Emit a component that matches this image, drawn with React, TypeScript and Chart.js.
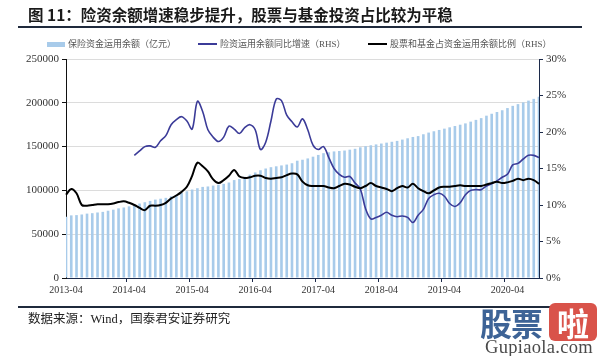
import React, { useEffect, useRef } from 'react';
import { Chart, registerables } from 'chart.js';
Chart.register(...registerables);

// Monthly categories 2013-04 .. 2020-10
const startYear = 2013;
const startMonth = 4;
const monthCount = 91;
const months: string[] = [];
for (let k = 0; k < monthCount; k++) {
  const m = startMonth - 1 + k;
  const y = startYear + Math.floor(m / 12);
  const mm = (m % 12) + 1;
  months.push(`${y}-${mm < 10 ? '0' + mm : mm}`);
}

// 保险资金运用余额（亿元）
const balance2013 = [70000, 71500, 71800, 72500, 73500, 74000, 74800, 75500, 76800];
const balance2014 = [78000, 79500, 80500, 81800, 83000, 85000, 86500, 88000, 89500, 90500, 91500, 93300];
const balance2015 = [95000, 97000, 99000, 101000, 102500, 104000, 104500, 105500, 106500, 107500, 109000, 111800];
const balance2016 = [113000, 115500, 118000, 120500, 123000, 125000, 126500, 127500, 128500, 129500, 131000, 133900];
const balance2017 = [135000, 136500, 138500, 140500, 142500, 143500, 144500, 145000, 145500, 146500, 147500, 149200];
const balance2018 = [150500, 151500, 152500, 153500, 154500, 155500, 156500, 158000, 159500, 161000, 162000, 164100];
const balance2019 = [166000, 167500, 169000, 170500, 172000, 173500, 175000, 176500, 178500, 180500, 182500, 185300];
const balance2020 = [187500, 189500, 191500, 194000, 196500, 198500, 200500, 202500, 204500, 207000];
const balance = [
  ...balance2013, ...balance2014, ...balance2015, ...balance2016,
  ...balance2017, ...balance2018, ...balance2019, ...balance2020,
];

// 险资运用余额同比增速（RHS, %），starts 2014-05
const growthLeadingGap = 13;
const growth = [
  16.8, 17.4, 18.0, 18.1, 17.9, 18.8, 19.5, 21.0, 21.7, 22.1, 21.5, 20.4,
  24.2, 22.8, 20.3, 19.3, 18.7, 19.3, 20.8, 20.4, 19.8, 20.6, 21.0, 20.3,
  17.6, 18.6, 21.5, 24.5, 24.3, 22.3, 21.4, 20.7, 21.8, 20.3, 18.2, 17.6,
  18.0, 16.5, 15.0, 14.2, 13.8, 13.9, 13.0, 12.2, 9.5, 8.1, 8.3, 8.6,
  9.0, 8.6, 8.4, 8.5, 8.3, 7.6, 8.6, 9.4, 10.9, 11.4, 11.6, 11.2,
  10.2, 9.8, 10.3, 11.4, 12.0, 12.1, 12.1, 12.6, 12.9, 13.3, 13.8, 14.2,
  15.5, 15.7, 16.3, 16.8, 16.8, 16.5,
];

// 股票和基金占资金运用余额比例（RHS, %）
const equityShare = [
  11.4, 12.2, 11.6, 10.0, 9.9, 10.0, 10.1, 10.1, 10.1, 10.2,
  10.4, 10.5, 10.3, 10.0, 9.6, 9.3, 9.9, 9.9, 10.0, 10.3,
  10.9, 11.3, 11.8, 12.5, 14.0, 15.8, 15.3, 14.6, 13.5, 13.0,
  13.4, 14.0, 14.8, 13.9, 13.7, 13.8, 14.0, 14.0, 13.7, 13.6,
  13.7, 13.8, 14.1, 14.3, 14.2, 13.2, 12.7, 12.6, 12.6, 12.6,
  12.4, 12.3, 12.6, 12.9, 12.8, 12.5, 12.3, 12.6, 13.0, 12.6,
  12.4, 12.2, 11.9, 12.3, 12.6, 12.4, 12.9, 12.3, 11.9, 11.6,
  12.0, 12.4, 12.5, 12.5, 12.6, 12.7, 12.6, 12.6, 12.6, 12.6,
  12.8, 13.0, 13.2, 13.0, 13.1, 13.3, 13.6, 13.4, 13.6, 13.4, 12.9,
];

const leftTicks = { min: 0, max: 250000, step: 50000 };
const rightTicks = { min: 0, max: 30, step: 5 };

const seriesNames = ['保险资金运用余额（亿元）', '险资运用余额同比增速（RHS）', '股票和基金占资金运用余额比例（RHS）'];

const serif = '"Liberation Serif", "Times New Roman", serif';
const mixed = '"Liberation Serif", "Noto Sans CJK SC", serif';

export default function App() {
  const canvasRef = useRef<HTMLCanvasElement | null>(null);

  useEffect(() => {
    const canvas = canvasRef.current;
    if (!canvas) return;
    const growthData: (number | null)[] = [
      ...Array(growthLeadingGap).fill(null),
      ...growth,
    ];
    const chart = new Chart(canvas, {
      type: 'bar',
      data: {
        labels: months,
        datasets: [
          {
            type: 'bar',
            label: seriesNames[0],
            data: balance,
            yAxisID: 'y',
            backgroundColor: '#a8cbea',
            borderWidth: 0,
            barPercentage: 0.5,
            categoryPercentage: 1,
            order: 3,
          },
          {
            type: 'line',
            label: seriesNames[1],
            data: growthData,
            yAxisID: 'y1',
            borderColor: '#3b3b98',
            borderWidth: 1.6,
            pointRadius: 0,
            tension: 0.35,
            spanGaps: false,
            order: 2,
          },
          {
            type: 'line',
            label: seriesNames[2],
            data: equityShare,
            yAxisID: 'y1',
            borderColor: '#000000',
            borderWidth: 2,
            pointRadius: 0,
            tension: 0.35,
            order: 1,
          },
        ],
      },
      options: {
        responsive: false,
        animation: false,
        maintainAspectRatio: false,
        layout: { padding: { top: 59, left: 0, right: 0, bottom: 0 } },
        plugins: {
          legend: { display: false },
          title: { display: false },
          tooltip: { enabled: false },
        },
        scales: {
          x: {
            type: 'category',
            offset: false,
            grid: {
              display: true,
              drawOnChartArea: false,
              drawTicks: true,
              tickLength: 4,
              tickColor: (ctx: any) =>
                months[ctx.index] && months[ctx.index].endsWith('-04') ? '#1c2a4a' : 'rgba(0,0,0,0)',
            },
            border: { display: true, color: '#1c2a4a', width: 1 },
            ticks: {
              autoSkip: false,
              maxRotation: 0,
              minRotation: 0,
              padding: 2,
              color: '#333333',
              font: { family: serif, size: 10 },
              callback: function (this: any, value: any, index: number) {
                const l = months[index];
                return l.endsWith('-04') ? l : '';
              },
            },
            afterFit: (scale: any) => {
              scale.height = 78;
            },
          },
          y: {
            type: 'linear',
            position: 'left',
            min: leftTicks.min,
            max: leftTicks.max,
            ticks: {
              stepSize: leftTicks.step,
              color: '#333333',
              padding: 3,
              font: { family: serif, size: 11 },
              callback: (v: any) => String(v),
            },
            grid: {
              color: '#dcdcdc',
              lineWidth: 1,
              drawTicks: true,
              tickLength: 4,
              tickColor: '#111111',
            },
            border: { display: true, color: '#111111', width: 1 },
            afterFit: (scale: any) => {
              scale.width = 66;
            },
          },
          y1: {
            type: 'linear',
            position: 'right',
            min: rightTicks.min,
            max: rightTicks.max,
            ticks: {
              stepSize: rightTicks.step,
              color: '#333333',
              padding: 3,
              font: { family: serif, size: 11 },
              callback: (v: any) => `${v}%`,
            },
            grid: {
              drawOnChartArea: false,
              drawTicks: true,
              tickLength: 4,
              tickColor: '#1c2a4a',
            },
            border: { display: true, color: '#1c2a4a', width: 1 },
            afterFit: (scale: any) => {
              scale.width = 61;
            },
          },
        },
      },
    });
    return () => chart.destroy();
  }, []);

  const legendText: React.CSSProperties = {
    position: 'absolute',
    top: 38,
    fontFamily: mixed,
    fontSize: 9,
    lineHeight: '12px',
    color: '#555555',
    whiteSpace: 'nowrap',
  };

  return (
    <div
      style={{
        position: 'absolute',
        left: 0,
        top: 0,
        width: 600,
        height: 356,
        background: '#ffffff',
        overflow: 'hidden',
      }}
    >
      <canvas
        ref={canvasRef}
        width={600}
        height={356}
        style={{ position: 'absolute', left: 0, top: 0, width: 600, height: 356 }}
      />
      {/* Title */}
      <div
        style={{
          position: 'absolute',
          left: 28,
          top: 4,
          fontFamily: '"Noto Sans CJK SC", sans-serif',
          fontWeight: 700,
          fontSize: 15.5,
          lineHeight: '20px',
          color: '#1a1a1a',
          whiteSpace: 'nowrap',
        }}
      >
        图 11：险资余额增速稳步提升，股票与基金投资占比较为平稳
      </div>
      <div style={{ position: 'absolute', left: 18, top: 26, width: 564, height: 2, background: '#1f2a3c' }} />

      {/* Legend */}
      <div style={{ position: 'absolute', left: 47, top: 42, width: 18, height: 5, background: '#a8cbea' }} />
      <div style={{ ...legendText, left: 68 }}>{seriesNames[0]}</div>
      <div style={{ position: 'absolute', left: 198, top: 43, width: 19, height: 2, background: '#3b3b98' }} />
      <div style={{ ...legendText, left: 220 }}>{seriesNames[1]}</div>
      <div style={{ position: 'absolute', left: 368, top: 43, width: 19, height: 2, background: '#000000' }} />
      <div style={{ ...legendText, left: 390 }}>{seriesNames[2]}</div>

      {/* Footer */}
      <div style={{ position: 'absolute', left: 18, top: 306, width: 564, height: 2, background: '#1f2a3c' }} />
      <div
        style={{
          position: 'absolute',
          left: 28,
          top: 311,
          fontFamily: mixed,
          fontSize: 12.5,
          lineHeight: '16px',
          color: '#222222',
          whiteSpace: 'nowrap',
        }}
      >
        数据来源：Wind，国泰君安证券研究
      </div>

      {/* Watermark */}
      <div
        style={{
          position: 'absolute',
          left: 480,
          top: 302,
          fontFamily: '"Noto Sans CJK SC", sans-serif',
          fontWeight: 700,
          fontSize: 32,
          lineHeight: '40px',
          color: '#3d6396',
          whiteSpace: 'nowrap',
          letterSpacing: -1,
        }}
      >
        股票
      </div>
      <div
        style={{
          position: 'absolute',
          left: 549,
          top: 303,
          width: 48,
          height: 38,
          borderRadius: 6,
          background: '#d9534a',
          color: '#ffffff',
          fontFamily: '"Noto Sans CJK SC", sans-serif',
          fontWeight: 700,
          fontSize: 32,
          lineHeight: '38px',
          textAlign: 'center',
        }}
      >
        啦
      </div>
      <div
        style={{
          position: 'absolute',
          left: 485,
          top: 338,
          fontFamily: serif,
          fontSize: 18.5,
          lineHeight: '19px',
          color: '#4a4a4a',
          whiteSpace: 'nowrap',
          letterSpacing: 0.3,
        }}
      >
        Gupiaola.com
      </div>
    </div>
  );
}
